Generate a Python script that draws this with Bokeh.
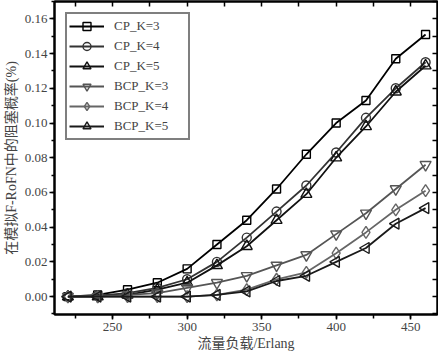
from bokeh.plotting import figure
from bokeh.models import (LinearAxis, SingleIntervalTicker, Range1d, Legend, LegendItem,
                          PrintfTickFormatter, CustomJSTickFormatter, ColumnDataSource)
from bokeh.embed import file_html
from bokeh.resources import INLINE
import math

load = [220, 240, 260, 280, 300, 320, 340, 360, 380, 400, 420, 440, 460]
cp_k3 = [0.000, 0.001, 0.004, 0.008, 0.016, 0.030, 0.044, 0.062, 0.082, 0.100, 0.113, 0.137, 0.151]
cp_k4 = [0.000, 0.0005, 0.002, 0.005, 0.010, 0.020, 0.034, 0.049, 0.064, 0.083, 0.103, 0.120, 0.135]
cp_k5 = [0.000, 0.000, 0.001, 0.004, 0.008, 0.018, 0.029, 0.044, 0.059, 0.080, 0.098, 0.118, 0.133]
bcp_k3 = [0.000, 0.000, 0.001, 0.002, 0.005, 0.008, 0.012, 0.018, 0.024, 0.036, 0.048, 0.062, 0.076]
bcp_k4 = [0.000, 0.000, 0.000, 0.000, 0.000, 0.001, 0.004, 0.010, 0.014, 0.025, 0.037, 0.050, 0.061]
bcp_k5 = [0.000, 0.000, 0.000, 0.000, 0.000, 0.001, 0.003, 0.009, 0.012, 0.020, 0.028, 0.042, 0.051]

series_names = ["CP_K=3", "CP_K=4", "CP_K=5", "BCP_K=3", "BCP_K=4", "BCP_K=5"]
x_label = "流量负载/Erlang"
y_label = "在模拟F-RoFN中的阻塞概率(%)"

SERIF = "'Liberation Serif', 'Noto Sans CJK SC'"

p = figure(width=438, height=353, output_backend="svg", toolbar_location=None,
           x_range=Range1d(211, 468), y_range=Range1d(-0.0103, 0.17),
           min_border_left=52, min_border_right=1, min_border_top=1, min_border_bottom=0)
p.grid.visible = False
p.outline_line_color = "black"
p.outline_line_width = 2
p.background_fill_color = "white"
p.border_fill_color = "white"

# bottom axis
xa = p.xaxis[0]
xa.ticker = SingleIntervalTicker(interval=50, num_minor_ticks=2)
xa.axis_label = x_label
xa.axis_label_text_font = SERIF
xa.axis_label_text_font_style = "normal"
xa.axis_label_text_font_size = "14px"
xa.axis_label_standoff = 2
xa.major_label_text_font = SERIF
xa.major_label_text_font_size = "13px"
xa.major_label_standoff = 3
xa.axis_line_width = 2
xa.major_tick_out = 5
xa.major_tick_in = 0
xa.minor_tick_out = 4
xa.minor_tick_in = 0
xa.major_tick_line_width = 1.5
xa.minor_tick_line_width = 1.5

ya = p.yaxis[0]
ya.ticker = SingleIntervalTicker(interval=0.02, num_minor_ticks=2)
ya.formatter = PrintfTickFormatter(format="%.2f")
ya.axis_label = y_label
ya.axis_label_text_font = SERIF
ya.axis_label_text_font_style = "normal"
ya.axis_label_text_font_size = "14px"
ya.axis_label_standoff = 3
ya.major_label_text_font = SERIF
ya.major_label_text_font_size = "13px"
ya.major_label_standoff = 2
ya.axis_line_width = 2
ya.major_tick_out = 5
ya.major_tick_in = 0
ya.minor_tick_out = 3
ya.minor_tick_in = 0
ya.major_tick_line_width = 1.5
ya.minor_tick_line_width = 1.5

blank = CustomJSTickFormatter(code="return ''")
# top axis with inward ticks
ta = LinearAxis(ticker=SingleIntervalTicker(interval=25, num_minor_ticks=0),
                formatter=blank, major_label_standoff=0, major_label_text_font_size="1px",
                major_tick_in=5, major_tick_out=0, minor_tick_in=0, minor_tick_out=0,
                axis_line_width=2, major_tick_line_width=1.5)
p.add_layout(ta, "above")
ra = LinearAxis(ticker=SingleIntervalTicker(interval=0.01, num_minor_ticks=0),
                formatter=blank, major_label_standoff=0, major_label_text_font_size="1px",
                major_tick_in=5, major_tick_out=0, minor_tick_in=0, minor_tick_out=0,
                axis_line_width=2, major_tick_line_width=1.5)
p.add_layout(ra, "right")

styles = [
    (cp_k3, "#000000", "square", 0.0, 8),
    (cp_k4, "#333333", "circle", 0.0, 9),
    (cp_k5, "#111111", "triangle", 0.0, 11),
    (bcp_k3, "#555555", "inverted_triangle", 0.0, 11),
    (bcp_k4, "#666666", "diamond", 0.0, 12),
    (bcp_k5, "#1a1a1a", "triangle", math.pi / 2, 11),
]

items = []
for name, (vals, col, mk, ang, sz) in zip(series_names, styles):
    src = ColumnDataSource(dict(x=load, y=vals, a=[ang] * len(load)))
    r1 = p.line("x", "y", source=src, line_color=col, line_width=1.8)
    r2 = p.scatter("x", "y", source=src, marker=mk, angle="a", angle_units="rad",
                   size=sz, line_color=col, line_width=1.4, fill_color=None)
    items.append(LegendItem(label=name, renderers=[r1, r2]))

legend = Legend(items=items, location="top_left", margin=11, padding=2,
                glyph_width=35, glyph_height=20, label_height=20, label_width=72,
                spacing=0, label_standoff=10,
                label_text_font=SERIF, label_text_font_size="13px",
                border_line_color="black", border_line_width=2,
                background_fill_alpha=1)
p.add_layout(legend, "center")

open("out.html", "w").write(file_html(p, INLINE))
